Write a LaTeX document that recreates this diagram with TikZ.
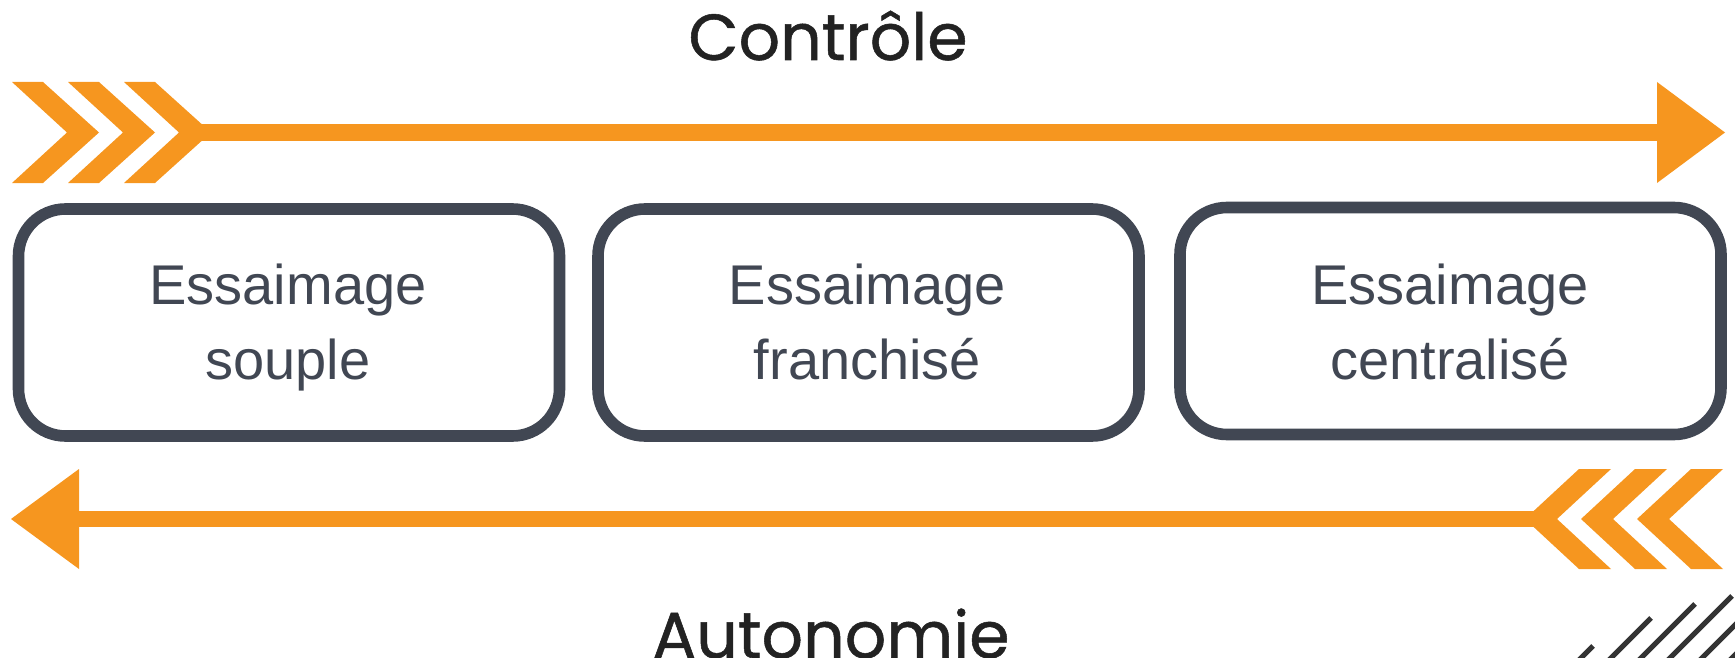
\documentclass[tikz,border=0pt]{standalone}
\usepackage{fontspec}
\setmainfont{Liberation Sans}
\newfontfamily\titlefont{Poppins}[FakeBold=0.8]
\definecolor{orangeA}{HTML}{F6961F}
\definecolor{slateA}{HTML}{414753}
\definecolor{inkA}{HTML}{222222}
\definecolor{hatchA}{HTML}{333333}
\begin{document}
\begin{tikzpicture}[x=0.5pt,y=-0.5pt,
  boxstyle/.style={draw=slateA, line width=5.8pt, rounded corners=23.5pt,
    minimum width=270.5pt, minimum height=113.5pt, inner sep=0pt},
  lbl/.style={text=slateA, font=\fontsize{28pt}{37.5pt}\selectfont, inner sep=0pt, anchor=base},
  ttl/.style={text=inkA, font=\titlefont\fontsize{32.5pt}{40pt}\selectfont, inner sep=0pt, anchor=base},
  arrowfill/.style={fill=orangeA, draw=none},
  hatch/.style={draw=hatchA, line width=2.5pt}]
\useasboundingbox (0,0) rectangle (1735,658);
\begin{scope}
\clip (0,0) rectangle (1735,658);
% top arrow
\fill[arrowfill] (190,124) rectangle (1660,141);
\foreach \x in {12,68,124}{
  \fill[arrowfill] (\x,82) -- ++(31,0) -- ++(56,50.5) -- ++(-56,50.5) -- ++(-31,0) -- ++(55,-50.5) -- cycle;
}
\fill[arrowfill] (1657,82) -- (1725,132.5) -- (1657,183) -- cycle;
% bottom arrow
\fill[arrowfill] (76,511) rectangle (1545,527);
\foreach \x in {1723,1667,1611}{
  \fill[arrowfill] (\x,469) -- ++(-32,0) -- ++(-54,50) -- ++(54,50) -- ++(32,0) -- ++(-54,-50) -- cycle;
}
\fill[arrowfill] (79,469) -- (11,519) -- (79,569) -- cycle;
% decorative hatch
\foreach \tx/\ty in {1593/646,1651/618,1695/604,1732/596,1762/598,1792/598}{
  \draw[hatch] (\tx,\ty) -- ++(-80,80);
}
\end{scope}
% boxes
\node[boxstyle] (b1) at (289,322.5) {};
\node[boxstyle] (b2) at (868.5,322.5) {};
\node[boxstyle] (b3) at (1450.5,321) {};
\node[lbl] (t1a) at (288,304) {Essaimage};
\node[lbl] (t1b) at (288,379) {souple};
\node[lbl] (t2a) at (867.5,304) {Essaimage};
\node[lbl] (t2b) at (867.5,379) {franchisé};
\node[lbl] (t3a) at (1450,304) {Essaimage};
\node[lbl] (t3b) at (1450,379) {centralisé};
% titles
\node[ttl] (ctl) at (828,60) {Contrôle};
\node[ttl] (aut) at (831,658) {Autonomie};
\end{tikzpicture}
\end{document}
